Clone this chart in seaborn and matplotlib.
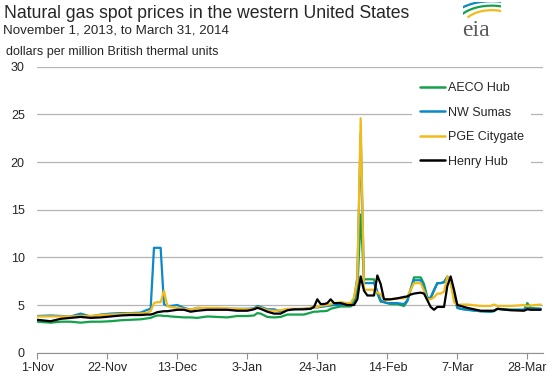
import numpy as np
import pandas as pd
import matplotlib
matplotlib.use("Agg")
import matplotlib.pyplot as plt
from matplotlib.patches import Arc
import seaborn as sns

# day offsets from 1-Nov-2013
days = [0, 4, 7, 10, 13, 16, 19, 22, 25, 28, 31, 33, 34, 35, 36, 37, 38, 39, 40, 42,
        44, 46, 48, 51, 54, 57, 60, 63, 65, 66, 67, 69, 71, 73, 75, 77, 80, 82, 83, 84,
        85, 86, 87, 88, 89, 91, 93, 94, 95, 96, 97, 98, 99, 101, 102, 103, 104, 105, 106, 108,
        110, 111, 112, 113, 115, 116, 117, 118, 119, 120, 121, 122, 123, 124, 125, 126, 127, 129, 133, 136,
        137, 138, 142, 146, 147, 148, 151]

aeco = [3.25, 3.15, 3.25, 3.25, 3.15, 3.25, 3.25, 3.3, 3.4, 3.45, 3.5, 3.6, 3.65, 3.8, 3.9, 3.9, 3.85, 3.85, 3.8, 3.75,
        3.7, 3.7, 3.65, 3.8, 3.75, 3.7, 3.85, 3.85, 3.9, 4.15, 4.1, 3.75, 3.7, 3.75, 4.0, 4.0, 4.0, 4.2, 4.3, 4.3,
        4.35, 4.35, 4.4, 4.6, 4.7, 4.85, 4.85, 4.85, 5.2, 6.5, 14.5, 7.7, 7.7, 7.7, 6.2, 5.35, 5.3, 5.2, 5.1, 5.1,
        4.9, 5.4, 6.7, 7.9, 7.9, 7.2, 5.8, 5.7, 6.5, 7.3, 7.3, 7.4, 8.0, 7.4, 6.0, 4.7, 4.6, 4.5, 4.35, 4.3,
        4.35, 4.6, 4.5, 4.5, 5.2, 4.7, 4.6]

sumas = [3.85, 3.9, 3.85, 3.8, 4.1, 3.8, 4.0, 4.1, 4.15, 4.15, 4.2, 4.5, 4.6, 11.0, 11.0, 11.0, 5.1, 4.9, 4.9, 5.0,
         4.7, 4.5, 4.7, 4.65, 4.6, 4.6, 4.6, 4.6, 4.65, 4.9, 4.8, 4.55, 4.55, 4.35, 4.5, 4.55, 4.6, 4.7, 4.75, 4.75,
         4.8, 4.85, 4.9, 4.95, 5.0, 5.0, 5.1, 5.1, 5.6, 7.9, 23.0, 7.3, 7.3, 7.3, 6.4, 5.5, 5.3, 5.2, 5.2, 5.2,
         5.1, 5.5, 6.6, 7.6, 7.6, 6.9, 5.6, 5.8, 6.6, 7.3, 7.3, 7.4, 7.9, 7.3, 6.0, 4.7, 4.6, 4.5, 4.35, 4.3,
         4.4, 4.6, 4.5, 4.5, 4.7, 4.6, 4.6]

pge = [3.8, 3.8, 3.8, 3.8, 3.85, 3.85, 3.95, 4.0, 4.05, 4.1, 4.1, 4.2, 4.35, 5.2, 5.3, 5.3, 6.5, 4.9, 4.8, 4.7,
       4.6, 4.5, 4.7, 4.7, 4.7, 4.65, 4.6, 4.55, 4.6, 4.75, 4.7, 4.45, 4.4, 4.45, 4.6, 4.6, 4.6, 4.7, 4.75, 4.8,
       4.9, 4.95, 5.0, 5.1, 5.2, 5.3, 5.2, 5.2, 5.8, 7.6, 24.6, 6.6, 6.6, 6.6, 6.3, 6.1, 5.6, 5.5, 5.6, 5.7,
       5.7, 5.9, 6.6, 7.3, 7.3, 6.5, 5.6, 5.6, 5.8, 6.2, 6.2, 6.4, 8.0, 7.3, 5.3, 5.0, 5.05, 5.05, 4.9, 4.9,
       5.05, 4.9, 4.9, 5.0, 4.9, 4.95, 5.05]

henry = [3.45, 3.3, 3.55, 3.65, 3.75, 3.65, 3.7, 3.8, 3.9, 3.95, 3.95, 4.0, 4.0, 4.1, 4.25, 4.3, 4.35, 4.35, 4.4, 4.5,
         4.5, 4.3, 4.4, 4.5, 4.5, 4.5, 4.4, 4.4, 4.55, 4.7, 4.6, 4.3, 4.1, 4.1, 4.45, 4.55, 4.55, 4.6, 4.8, 5.6,
         5.1, 5.1, 5.2, 5.6, 5.2, 5.2, 5.0, 5.0, 5.0, 5.6, 8.0, 6.5, 6.0, 6.0, 8.1, 7.2, 5.6, 5.6, 5.6, 5.7,
         5.85, 5.9, 6.1, 6.2, 6.3, 6.2, 5.5, 4.8, 4.5, 4.8, 4.8, 4.8, 7.0, 8.0, 6.6, 5.0, 4.9, 4.7, 4.4, 4.4,
         4.4, 4.6, 4.45, 4.4, 4.55, 4.5, 4.5]

hubs = ["AECO Hub", "NW Sumas", "PGE Citygate", "Henry Hub"]
colors = ["#12a24a", "#0a88c8", "#f2bb1a", "#000000"]
tick_labels = ["1-Nov", "22-Nov", "13-Dec", "3-Jan", "24-Jan", "14-Feb", "7-Mar", "28-Mar"]

start = pd.Timestamp("2013-11-01")
dates = start + pd.to_timedelta(days, unit="D")
wide = pd.DataFrame({"date": dates, "AECO Hub": aeco, "NW Sumas": sumas,
                     "PGE Citygate": pge, "Henry Hub": henry})
df = wide.melt(id_vars="date", var_name="hub", value_name="price")

sns.set_style("white")
plt.rcParams["font.family"] = ["Liberation Sans", "DejaVu Sans"]

fig = plt.figure(figsize=(5.54, 3.77), dpi=100)
ax = fig.add_axes([0.0673, 0.0645, 0.9123, 0.7586])

sns.lineplot(data=df, x="date", y="price", hue="hub", hue_order=hubs,
             palette=colors, linewidth=1.6, ax=ax)

ax.set_ylim(0, 30)
ax.set_yticks(range(0, 31, 5))
ax.set_xlim(start, start + pd.Timedelta(days=151.6))
ticks = pd.date_range(start, periods=8, freq="21D")
ax.set_xticks(ticks)
ax.set_xticklabels(tick_labels)
ax.set_xlabel("")
ax.set_ylabel("")
ax.yaxis.grid(True, color="#b4b4b4", linewidth=0.9)
ax.set_axisbelow(True)
for s in ["top", "right", "left"]:
    ax.spines[s].set_visible(False)
ax.spines["bottom"].set_color("#909090")
ax.tick_params(axis="y", length=0, pad=9, labelsize=9)
ax.tick_params(axis="x", length=4, color="#909090", direction="out", pad=3, labelsize=9)
ax.xaxis.set_tick_params(bottom=True)

leg = ax.legend(loc="upper left", bbox_to_anchor=(0.742, 0.972), frameon=True,
                facecolor="white", edgecolor="none", framealpha=1, fontsize=9,
                handlelength=2.0, handletextpad=0.25, labelspacing=1.0,
                borderpad=0.6, borderaxespad=0)
for line in leg.get_lines():
    line.set_linewidth(1.8)

fig.text(0.007, 0.952, "Natural gas spot prices in the western United States", fontsize=12.7)
fig.text(0.006, 0.910, "November 1, 2013, to March 31, 2014", fontsize=9.6)
fig.text(0.011, 0.855, "dollars per million British thermal units", fontsize=9.0)

# eia logo
fig.text(0.835, 0.905, "eia", fontsize=17, family="Liberation Serif", color="#5a5a5a")
lax = fig.add_axes([0.835, 0.925, 0.07, 0.07])
lax.set_xlim(0, 1)
lax.set_ylim(0, 1)
lax.axis("off")
for r, c in zip([0.75, 0.95, 1.15], ["#f2bb1a", "#12a24a", "#0a88c8"]):
    lax.add_patch(Arc((0.75, 0.05), 2 * r, 1.7 * r, theta1=20, theta2=150, color=c, linewidth=1.6))

fig.savefig("out.png", dpi=100)
